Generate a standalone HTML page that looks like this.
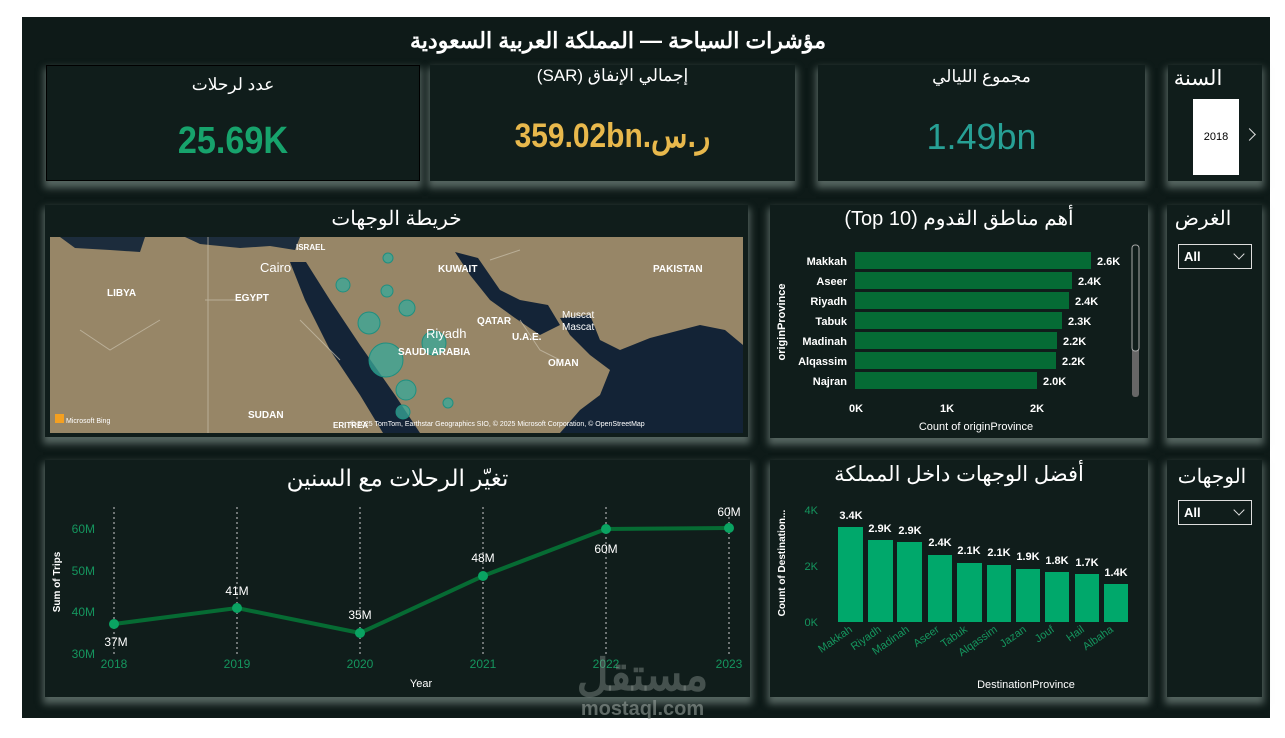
<!DOCTYPE html>
<html><head><meta charset="utf-8"><style>
*{margin:0;padding:0;box-sizing:border-box}
body{width:1285px;height:738px;background:#fff;position:relative;overflow:hidden;font-family:"Liberation Sans","Noto Sans CJK SC",sans-serif;color:#fff}
.canvas{position:absolute;left:22px;top:17px;width:1248px;height:701px;background:#0e1a18}
.p{position:absolute;background:#101d1b;box-shadow:0 5px 7px 2px rgba(110,125,120,.75)}
.t{position:absolute;text-align:center;white-space:nowrap}
.dd{position:absolute;border:1px solid #ddd;height:25px;width:74px;font-size:13px;font-weight:bold;padding:4px 5px}
.dd:after{content:"";position:absolute;right:8px;top:5px;width:7px;height:7px;border-right:1.5px solid #ddd;border-bottom:1.5px solid #ddd;transform:rotate(45deg)}
</style></head><body>
<div class="canvas"></div>
<div class="t" style="left:318px;top:28px;width:600px;font-size:22px;font-weight:bold;font-family:'Liberation Sans','Noto Sans CJK SC',sans-serif">مؤشرات السياحة — المملكة العربية السعودية</div>

<div class="p" style="left:46px;top:65px;width:374px;height:116px;border:1px solid #000"></div>
<div class="t" style="left:46px;top:75px;width:374px;font-size:17px">عدد لرحلات</div>
<div class="t" style="left:46px;top:120px;width:374px;font-size:38px;font-weight:bold;color:#17a36c;transform:scaleX(.9)">25.69K</div>

<div class="p" style="left:430px;top:65px;width:365px;height:116px"></div>
<div class="t" style="left:430px;top:66px;width:365px;font-size:17px">(SAR) إجمالي الإنفاق</div>
<div class="t" style="left:430px;top:116px;width:365px;font-size:34px;font-weight:bold;color:#e8b84c;transform:scaleX(.88)">359.02bn.ر.س</div>

<div class="p" style="left:818px;top:65px;width:327px;height:116px"></div>
<div class="t" style="left:818px;top:67px;width:327px;font-size:17px">مجموع الليالي</div>
<div class="t" style="left:818px;top:116px;width:327px;font-size:36px;color:#27a095">1.49bn</div>

<div class="p" style="left:1168px;top:65px;width:94px;height:116px"></div>
<div class="t" style="left:1172px;top:66px;width:52px;font-size:21px">السنة</div>
<div style="position:absolute;left:1193px;top:99px;width:46px;height:76px;background:#fff;color:#000;font-size:11px;text-align:center;line-height:76px">2018</div>
<div style="position:absolute;left:1245px;top:130px;width:9px;height:9px;border-right:1.5px solid #ddd;border-top:1.5px solid #ddd;transform:rotate(45deg)"></div>

<!-- Map -->
<div class="p" style="left:45px;top:205px;width:703px;height:232px"></div>
<div class="t" style="left:45px;top:206px;width:703px;font-size:20px">خريطة الوجهات</div>
<svg style="position:absolute;left:50px;top:237px" width="693" height="196" viewBox="50 237 693 196">
<rect x="50" y="237" width="693" height="196" fill="#8f7f62"/>
<rect x="50" y="237" width="693" height="196" fill="#a39271" opacity=".4"/>
<path d="M60,237 L145,237 L140,252 L110,250 L75,248Z" fill="#1c2c3c"/>
<path d="M185,237 L300,237 L295,250 L270,246 L240,248 L200,244Z" fill="#1d2d3d"/>
<path d="M290,262 L306,262 L330,300 L360,345 L395,395 L420,433 L383,433 L360,395 L330,350 L305,300Z" fill="#142437"/>
<path d="M455,252 L478,258 L500,290 L520,300 L548,305 L560,325 L540,335 L515,318 L490,300 L470,275Z" fill="#142437"/>
<path d="M560,318 L590,315 L600,340 L620,350 L650,338 L700,325 L725,330 L743,345 L743,433 L560,433 L580,410 L600,395 L610,370 L590,355 L570,335Z" fill="#132336"/>
<path d="M208,237 L208,433 M205,300 L260,300 M160,320 L110,350 L80,330 M300,320 L340,360 M520,320 L540,350 L560,360 M490,260 L520,250" stroke="#c9c0ad" stroke-width="1" fill="none" opacity=".7"/>
<g fill="#37a89a" fill-opacity=".75" stroke="#1f8f80" stroke-width="1">
<circle cx="388" cy="258" r="5"/><circle cx="343" cy="285" r="7"/><circle cx="387" cy="291" r="6"/><circle cx="407" cy="308" r="8"/><circle cx="369" cy="323" r="11"/><circle cx="434" cy="343" r="12"/><circle cx="386" cy="360" r="17"/><circle cx="406" cy="390" r="10"/><circle cx="448" cy="403" r="5"/><circle cx="403" cy="412" r="7"/></g>
<g fill="#fff" font-family="Liberation Sans" font-size="10" font-weight="bold">
<text x="107" y="296">LIBYA</text><text x="235" y="301">EGYPT</text><text x="438" y="272">KUWAIT</text><text x="653" y="272">PAKISTAN</text>
<text x="477" y="324">QATAR</text><text x="512" y="340">U.A.E.</text><text x="548" y="366">OMAN</text><text x="248" y="418">SUDAN</text>
<text x="398" y="355">SAUDI ARABIA</text><text x="296" y="250" font-size="8">ISRAEL</text><text x="333" y="428" font-size="8">ERITREA</text>
<text x="260" y="272" font-size="13" font-weight="normal">Cairo</text><text x="426" y="338" font-size="13" font-weight="normal">Riyadh</text>
<text x="562" y="318" font-weight="normal">Muscat</text><text x="562" y="330" font-weight="normal">Mascat</text>
<text x="66" y="423" font-size="7" font-weight="normal">Microsoft Bing</text>
<text x="350" y="426" font-size="7" font-weight="normal">© 2025 TomTom, Earthstar Geographics SIO, © 2025 Microsoft Corporation, © OpenStreetMap</text></g>
<rect x="55" y="414" width="9" height="9" fill="#f4a020"/>
</svg>

<!-- Top 10 -->
<div class="p" style="left:770px;top:205px;width:378px;height:233px"></div>
<div class="t" style="left:770px;top:206px;width:378px;font-size:20px">(Top 10) أهم مناطق القدوم</div>
<svg style="position:absolute;left:770px;top:205px" width="378" height="233" font-family="Liberation Sans" font-size="11" font-weight="bold">
<g fill="#056b35">
<rect x="85" y="47" width="236" height="17"/><rect x="85" y="67" width="217" height="17"/><rect x="85" y="87" width="214" height="17"/><rect x="85" y="107" width="207" height="17"/><rect x="85" y="127" width="202" height="17"/><rect x="85" y="147" width="201" height="17"/><rect x="85" y="167" width="182" height="17"/></g>
<g fill="#fff" text-anchor="end"><text x="77" y="60">Makkah</text><text x="77" y="80">Aseer</text><text x="77" y="100">Riyadh</text><text x="77" y="120">Tabuk</text><text x="77" y="140">Madinah</text><text x="77" y="160">Alqassim</text><text x="77" y="180">Najran</text></g>
<g fill="#fff"><text x="327" y="60">2.6K</text><text x="308" y="80">2.4K</text><text x="305" y="100">2.4K</text><text x="298" y="120">2.3K</text><text x="293" y="140">2.2K</text><text x="292" y="160">2.2K</text><text x="273" y="180">2.0K</text>
<text x="86" y="207" text-anchor="middle">0K</text><text x="177" y="207" text-anchor="middle">1K</text><text x="267" y="207" text-anchor="middle">2K</text>
<text x="206" y="225" text-anchor="middle" font-weight="normal">Count of originProvince</text>
<text transform="translate(15,117) rotate(-90)" text-anchor="middle">originProvince</text></g>
<rect x="362" y="40" width="7" height="152" rx="3" fill="#666"/><rect x="362" y="40" width="7" height="106" rx="3" fill="#101d1b" stroke="#aaa"/>
</svg>

<div class="p" style="left:1167px;top:205px;width:95px;height:233px"></div>
<div class="t" style="left:1170px;top:206px;width:66px;font-size:20px">الغرض</div>
<div class="dd" style="left:1178px;top:244px">All</div>

<!-- Line -->
<div class="p" style="left:45px;top:460px;width:705px;height:237px"></div>
<div class="t" style="left:45px;top:465px;width:705px;font-size:23px">تغيّر الرحلات مع السنين</div>
<svg style="position:absolute;left:0;top:0" width="1285" height="738" font-family="Liberation Sans" font-size="12">
<g stroke="#ccc" stroke-dasharray="2,3" stroke-width="1"><line x1="114" y1="507" x2="114" y2="655"/><line x1="237" y1="507" x2="237" y2="655"/><line x1="360" y1="507" x2="360" y2="655"/><line x1="483" y1="507" x2="483" y2="655"/><line x1="606" y1="507" x2="606" y2="655"/><line x1="729" y1="507" x2="729" y2="655"/></g>
<polyline points="114,624 237,608 360,633 483,576 606,529 729,528" fill="none" stroke="#066b33" stroke-width="4"/>
<g fill="#0aa362"><circle cx="114" cy="624" r="5"/><circle cx="237" cy="608" r="5"/><circle cx="360" cy="633" r="5"/><circle cx="483" cy="576" r="5"/><circle cx="606" cy="529" r="5"/><circle cx="729" cy="528" r="5"/></g>
<g fill="#fff" text-anchor="middle"><text x="116" y="646">37M</text><text x="237" y="595">41M</text><text x="360" y="619">35M</text><text x="483" y="562">48M</text><text x="606" y="553">60M</text><text x="729" y="516">60M</text><text x="421" y="687" font-size="11">Year</text>
<text transform="translate(60,582) rotate(-90)" font-size="10" font-weight="bold">Sum of Trips</text></g>
<g fill="#15955e" text-anchor="end"><text x="95" y="533">60M</text><text x="95" y="575">50M</text><text x="95" y="616">40M</text><text x="95" y="658">30M</text></g>
<g fill="#15955e" text-anchor="middle"><text x="114" y="668">2018</text><text x="237" y="668">2019</text><text x="360" y="668">2020</text><text x="483" y="668">2021</text><text x="606" y="668">2022</text><text x="729" y="668">2023</text></g>
</svg>

<!-- Dest bars -->
<div class="p" style="left:770px;top:460px;width:378px;height:237px"></div>
<div class="t" style="left:770px;top:462px;width:378px;font-size:21px">أفضل الوجهات داخل المملكة</div>
<svg style="position:absolute;left:0;top:0" width="1285" height="738" font-family="Liberation Sans" font-size="11">
<g fill="#00a86b"><rect x="838" y="527" width="25" height="95"/><rect x="868" y="540" width="25" height="82"/><rect x="897" y="542" width="25" height="80"/><rect x="928" y="555" width="24" height="67"/><rect x="957" y="563" width="25" height="59"/><rect x="987" y="565" width="24" height="57"/><rect x="1016" y="569" width="24" height="53"/><rect x="1045" y="572" width="24" height="50"/><rect x="1075" y="574" width="24" height="48"/><rect x="1104" y="584" width="24" height="38"/></g>
<g fill="#fff" text-anchor="middle" font-weight="bold"><text x="851" y="519">3.4K</text><text x="880" y="532">2.9K</text><text x="910" y="534">2.9K</text><text x="940" y="546">2.4K</text><text x="969" y="554">2.1K</text><text x="999" y="556">2.1K</text><text x="1028" y="560">1.9K</text><text x="1057" y="564">1.8K</text><text x="1087" y="566">1.7K</text><text x="1116" y="576">1.4K</text>
<text x="1026" y="688" font-weight="normal">DestinationProvince</text>
<text transform="translate(785,563) rotate(-90)" font-size="10">Count of Destination...</text></g>
<g fill="#15955e" text-anchor="end"><text x="818" y="514">4K</text><text x="818" y="570">2K</text><text x="818" y="626">0K</text>
<text transform="translate(853,631) rotate(-35)">Makkah</text><text transform="translate(882,631) rotate(-35)">Riyadh</text><text transform="translate(910,631) rotate(-35)">Madinah</text><text transform="translate(940,631) rotate(-35)">Aseer</text><text transform="translate(968,631) rotate(-35)">Tabuk</text><text transform="translate(998,631) rotate(-35)">Alqassim</text><text transform="translate(1027,631) rotate(-35)">Jazan</text><text transform="translate(1055,631) rotate(-35)">Jouf</text><text transform="translate(1085,631) rotate(-35)">Hail</text><text transform="translate(1114,631) rotate(-35)">Albaha</text></g>
</svg>

<div class="p" style="left:1167px;top:460px;width:95px;height:237px"></div>
<div class="t" style="left:1172px;top:464px;width:80px;font-size:20px">الوجهات</div>
<div class="dd" style="left:1178px;top:500px">All</div>

<div class="t" style="left:560px;top:650px;width:165px;font-size:44px;font-weight:bold;color:rgba(150,160,155,.4)">مستقل</div>
<div class="t" style="left:560px;top:698px;width:165px;font-size:20px;font-weight:bold;color:rgba(150,160,155,.6)">mostaql.com</div>
</body></html>
